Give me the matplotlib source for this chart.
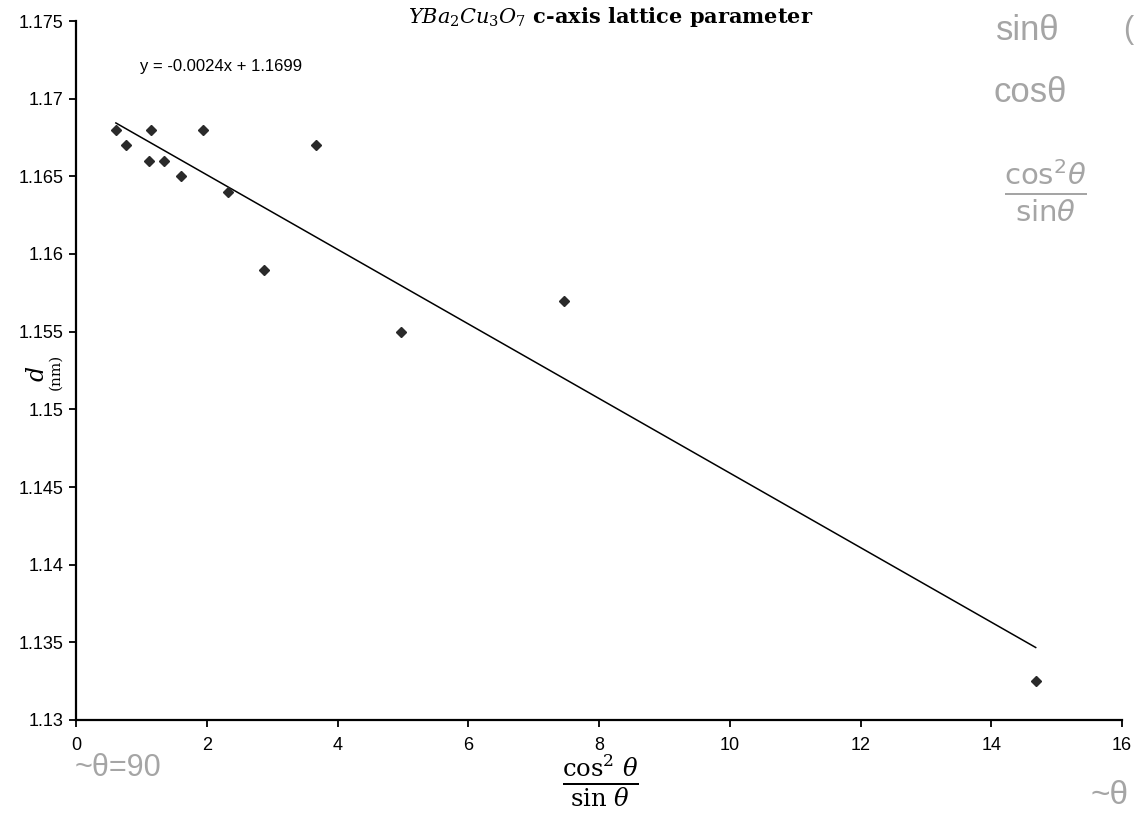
import matplotlib
matplotlib.use("Agg")
import matplotlib.pyplot as plt
import numpy as np

# data
x_vals = [0.61, 0.76, 1.15, 1.12, 1.35, 1.61, 1.94, 2.32, 2.87, 3.67, 4.97, 7.46, 14.68]
d_vals = [1.168, 1.167, 1.168, 1.166, 1.166, 1.165, 1.168, 1.164, 1.159, 1.167, 1.155, 1.157, 1.1325]
slope = -0.0024
intercept = 1.1699
x_ticks = [0, 2, 4, 6, 8, 10, 12, 14, 16]
y_ticks = [1.13, 1.135, 1.14, 1.145, 1.15, 1.155, 1.16, 1.165, 1.17, 1.175]
y_ticklabels = ["1.13", "1.135", "1.14", "1.145", "1.15", "1.155", "1.16", "1.165", "1.17", "1.175"]

plt.rcParams['font.family'] = ['Liberation Sans', 'DejaVu Sans']

fig = plt.figure(figsize=(11.35, 8.16), dpi=100)
ax = fig.add_axes([76/1135, 1-720/816, (1122-76)/1135, (720-21)/816])

ax.plot(x_vals, d_vals, linestyle='none', marker='D', markersize=5,
        color='#2a2a2a', zorder=3)
xs = np.array([min(x_vals), max(x_vals)])
ax.plot(xs, slope*xs + intercept, color='black', lw=1.1)

ax.set_xlim(0, 16)
ax.set_ylim(1.13, 1.175)
ax.set_xticks(x_ticks)
ax.set_xticklabels([str(t) for t in x_ticks])
ax.set_yticks(y_ticks)
ax.set_yticklabels(y_ticklabels)
for s in ['top', 'right']:
    ax.spines[s].set_visible(False)
for s in ['left', 'bottom']:
    ax.spines[s].set_linewidth(1.6)
    ax.spines[s].set_color('black')
ax.tick_params(axis='both', direction='out', length=5, width=1.3,
               labelsize=13, colors='black')
ax.tick_params(axis='x', pad=7)
ax.tick_params(axis='y', pad=4)

fig.text(140/1135, 1-67/816, "y = -0.0024x + 1.1699",
         fontsize=12, va='center', ha='left')

# title
fig.text(611/1135, 1-17/816,
         r"$\mathit{YBa_{2}Cu_{3}O_{7}}$" + " c-axis lattice parameter",
         ha='center', va='center', fontsize=15, fontweight='bold',
         family=['DejaVu Serif'], math_fontfamily='dejavuserif')

# y label
fig.text(38/1135, 1-374/816, r"$d$", rotation=90, ha='center', va='center',
         fontsize=17, family=['DejaVu Serif'], math_fontfamily='dejavuserif')
fig.text(55/1135, 1-372/816, "(nm)", rotation=90, ha='center', va='center',
         fontsize=11, family=['DejaVu Serif'])

# x label (fraction)
fig.text(600/1135, 1-780/816, r"$\frac{\mathrm{cos}^{2}\ \theta}{\mathrm{sin}\ \theta}$",
         ha='center', va='center', fontsize=25, math_fontfamily='dejavuserif')

# pencil annotations
pencil = '#a5a5a5'
fig.text(1028/1135, 1-30/816, "sinθ", fontsize=25, color=pencil, ha='center', va='center')
fig.text(1128/1135, 1-30/816, "(", fontsize=22, color=pencil, ha='center', va='center')
fig.text(1030/1135, 1-93/816, "cosθ", fontsize=25, color=pencil, ha='center', va='center')
fig.text(1045/1135, 1-190/816, r"$\frac{\mathrm{cos}^2\theta}{\mathrm{sin}\theta}$",
         fontsize=30, color=pencil, ha='center', va='center')
fig.text(118/1135, 1-768/816, "~θ=90", fontsize=22, color=pencil, ha='center', va='center')
fig.text(1110/1135, 1-795/816, "~θ", fontsize=24, color=pencil, ha='center', va='center')

fig.savefig("out.png", dpi=100)
